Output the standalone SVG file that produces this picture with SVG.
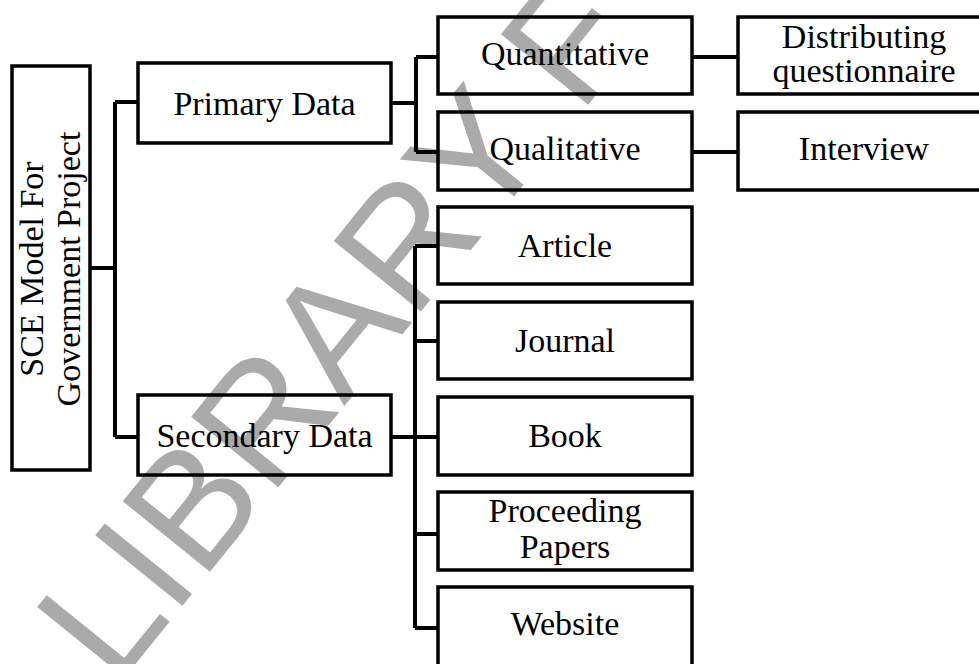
<svg xmlns="http://www.w3.org/2000/svg" width="979" height="664" viewBox="0 0 979 664">
  <style>
    .box { fill: none; stroke: #000; stroke-width: 3.5; }
    .lbl { font-family: "Liberation Serif", "Times New Roman", serif; font-size: 34px; fill: #000; text-anchor: middle; }
    .link { fill: none; stroke: #000; stroke-width: 4; stroke-linejoin: miter; }
    .mark { font-family: "Liberation Sans", Arial, sans-serif; font-size: 163px; fill: #aaaaaa; }
  </style>
  <rect width="979" height="664" fill="#fff"/>

  <!-- background watermark -->
  <text class="mark" x="116" y="688" transform="rotate(-51 116 688)">LIBRARY F</text>

  <!-- connectors -->
  <g id="connectors">
    <path class="link" d="M90 268 H115 M115 102 V437 M115 102 H138 M115 437 H138"/>
    <path class="link" d="M391 103 H416 M416 57 V152 M416 57 H438 M416 152 H438"/>
    <path class="link" d="M692 57 H738 M692 152 H738"/>
    <path class="link" d="M391 437 H438 M415 246 V628 M415 246 H438 M415 341 H438 M415 534 H438 M415 628 H438"/>
  </g>

  <g id="root">
    <rect class="box" x="12" y="66" width="78" height="404"/>
    <text class="lbl" transform="translate(43 269) rotate(-90)">SCE Model For</text>
    <text class="lbl" transform="translate(80 269) rotate(-90)">Government Project</text>
  </g>

  <g id="primary">
    <rect class="box" x="138" y="63" width="253" height="80"/>
    <text class="lbl" x="264.5" y="115">Primary Data</text>
  </g>

  <g id="secondary">
    <rect class="box" x="138" y="395" width="253" height="80"/>
    <text class="lbl" x="264.5" y="447">Secondary Data</text>
  </g>

  <g id="quantitative">
    <rect class="box" x="438" y="17" width="254" height="77"/>
    <text class="lbl" x="565" y="65">Quantitative</text>
  </g>

  <g id="qualitative">
    <rect class="box" x="438" y="112" width="254" height="78"/>
    <text class="lbl" x="565" y="160">Qualitative</text>
  </g>

  <g id="distributing">
    <rect class="box" x="738" y="17" width="252" height="77"/>
    <text class="lbl" x="864" y="48">Distributing</text>
    <text class="lbl" x="864" y="82">questionnaire</text>
  </g>

  <g id="interview">
    <rect class="box" x="738" y="112" width="252" height="78"/>
    <text class="lbl" x="864" y="160">Interview</text>
  </g>

  <g id="article">
    <rect class="box" x="438" y="207" width="254" height="77"/>
    <text class="lbl" x="565" y="257">Article</text>
  </g>

  <g id="journal">
    <rect class="box" x="438" y="302" width="254" height="77"/>
    <text class="lbl" x="565" y="352">Journal</text>
  </g>

  <g id="book">
    <rect class="box" x="438" y="397" width="254" height="78"/>
    <text class="lbl" x="565" y="447">Book</text>
  </g>

  <g id="proceeding">
    <rect class="box" x="438" y="492" width="254" height="78"/>
    <text class="lbl" x="565" y="522">Proceeding</text>
    <text class="lbl" x="565" y="558">Papers</text>
  </g>

  <g id="website">
    <rect class="box" x="438" y="587" width="254" height="80"/>
    <text class="lbl" x="565" y="635">Website</text>
  </g>
</svg>
